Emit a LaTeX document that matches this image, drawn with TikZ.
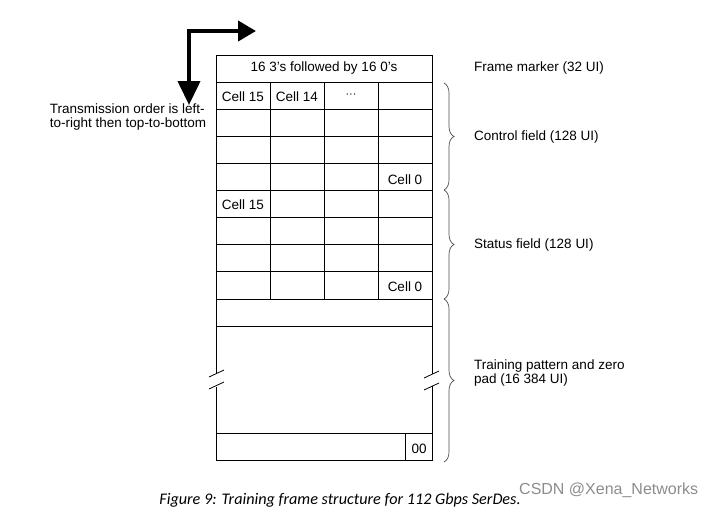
\documentclass[tikz,border=0pt]{standalone}
\usepackage{fontspec}
\setmainfont{Liberation Sans}
\newfontfamily\capfont{Carlito}
\usetikzlibrary{arrows.meta,decorations.pathreplacing}

\tikzset{
  grid line/.style={black, line width=1pt},
  cell text/.style={font=\fontsize{13.5}{15}\selectfont, inner sep=0pt},
  side brace/.style={decorate, decoration={brace, amplitude=10pt}, black!70, line width=0.7pt},
  field label/.style={font=\fontsize{13.5}{15}\selectfont, anchor=west, align=left, inner sep=0pt}
}

\begin{document}
\begin{tikzpicture}[x=1pt, y=-1pt]
  \useasboundingbox (0,0) rectangle (708,509);

  % Outer frame, with a gap for the break marks
  \draw[grid line] (216,373) -- (216,55) -- (432,55) -- (432,374);
  \draw[grid line] (216,387) -- (216,460) -- (432,460) -- (432,386);

  % Horizontal rules
  \foreach \i in {0,...,8}
    \draw[grid line] (216,82+27.125*\i) -- (432,82+27.125*\i);
  \draw[grid line] (216,326) -- (432,326);
  \draw[grid line] (216,433) -- (432,433);

  % Cell columns
  \foreach \x in {270,324,378}
    \draw[grid line] (\x,82) -- (\x,299);
  \draw[grid line] (405,433) -- (405,460);

  % Break marks
  \draw[line width=0.8pt] (209,377) -- (224,370);
  \draw[line width=0.8pt] (209,389) -- (224,382);
  \draw[line width=0.8pt] (424,378) -- (439,371);
  \draw[line width=0.8pt] (424,390) -- (439,383);

  % Cell texts
  \node[cell text] (marker) at (324,68) {16 3’s followed by 16 0’s};
  \node[cell text] (c15a) at (243,97) {Cell 15};
  \node[cell text] (c14) at (297,97) {Cell 14};
  \node[cell text, font=\fontsize{11}{12}\selectfont] (dots) at (351,96) {···};
  \node[cell text] (c0a) at (405,180) {Cell 0};
  \node[cell text] (c15b) at (243,205) {Cell 15};
  \node[cell text] (c0b) at (405,287) {Cell 0};
  \node[cell text] (pad) at (419,449) {00};

  % Transmission order arrow
  \coordinate (down) at (189,105);
  \coordinate (corner) at (189,31);
  \coordinate (right) at (256,31);
  \draw[line width=4pt, {Triangle[width=22pt,length=24pt]}-{Triangle[width=20pt,length=18pt]}]
    (down) -- (corner) -- (right);
  \node[font=\fontsize{13.5}{14}\selectfont, align=left, inner sep=0pt] (order) at (128,117)
    {Transmission order is left-\\to-right then top-to-bottom};

  % Braces and field labels
  \coordinate (b1) at (444,83);
  \coordinate (b2) at (444,190);
  \coordinate (b3) at (444,299);
  \coordinate (b4) at (444,462);
  \draw[side brace] (b1) -- (b2);
  \draw[side brace] (b2) -- (b3);
  \draw[side brace] (b3) -- (b4);

  \node[field label] (fm) at (474,68) {Frame marker (32 UI)};
  \node[field label] (cf) at (474,137) {Control field (128 UI)};
  \node[field label] (sf) at (474,245) {Status field (128 UI)};
  \node[field label, font=\fontsize{13.5}{14}\selectfont] (tp) at (474,373)
    {Training pattern and zero\\pad (16 384 UI)};

  % Caption and watermark
  \node[font=\capfont\itshape\fontsize{16.2}{18}\selectfont, inner sep=0pt] (cap) at (340,500)
    {Figure 9: Training frame structure for 112 Gbps SerDes.};
  \node[font=\fontsize{16}{18}\selectfont, black!45, anchor=west, inner sep=0pt] (wm) at (519,490)
    {CSDN @Xena\_Networks};
\end{tikzpicture}
\end{document}
